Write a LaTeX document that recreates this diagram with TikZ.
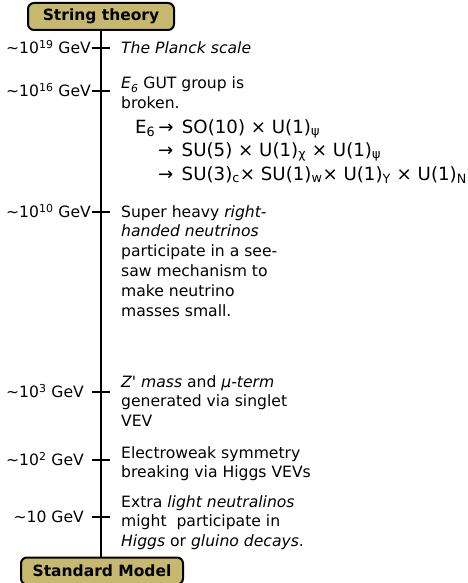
\documentclass[tikz,border=0pt]{standalone}
\usepackage{fontspec}
\setmainfont{DejaVu Sans}[Ligatures=TeXOff]
\definecolor{khaki}{RGB}{198,185,110}
\begin{document}
\begin{tikzpicture}[x=1pt,y=-1pt,
  box/.style={draw=black, line width=2pt, rounded corners=6pt, fill=khaki,
    font=\bfseries\fontsize{15.5}{18}\selectfont, inner sep=0pt, minimum height=27pt},
  lab/.style={anchor=base east, inner sep=0pt, font=\fontsize{15.6}{19.8}\selectfont},
  txt/.style={anchor=base west, inner sep=0pt, font=\fontsize{15.6}{19.8}\selectfont},
  eq/.style={anchor=base west, inner sep=0pt, font=\fontsize{18.2}{22}\selectfont},
  axis/.style={line width=2.5pt},
  tickmark/.style={line width=2.5pt}]
\useasboundingbox (0,0) rectangle (467,583);
\node[box, minimum width=146pt] (top) at (101,16.5) {String theory};
\node[box, minimum width=162pt] (bot) at (102,571) {Standard Model};
\draw[axis] (top.south) -- (top.south |- bot.north);
% ticks
\foreach \n/\y in {t1/48, t2/91, t3/212, t4/392, t5/460, t6/517}{
  \coordinate (\n) at (101,\y);
  \draw[tickmark] ([xshift=-9pt]\n) -- ([xshift=9pt]\n);
}
% left labels
\node[lab] (l1) at (91,53.5) {∼10\textsuperscript{19} GeV};
\node[lab] (l2) at (91,96.5) {∼10\textsuperscript{16} GeV};
\node[lab] (l3) at (91,217.5) {∼10\textsuperscript{10} GeV};
\node[lab] (l4) at (84,397.5) {∼10\textsuperscript{3} GeV};
\node[lab] (l5) at (84,465.5) {∼10\textsuperscript{2} GeV};
\node[lab] (l6) at (84,522.5) {∼10 GeV};
% right texts
\node[txt] (b1) at (121,54) {\textit{The Planck scale}};
\node[txt] (b2) at (121,89) {\vtop{\hbox{\textit{E\textsubscript{6}} GUT group is}\hbox{broken.}}};
\node[eq] (e1) at (135,133) {E\textsubscript{6}\,→\hspace{2.5pt} SO(10) × U(1)\textsubscript{ψ}};
\node[eq] (e2) at (158,156) {→\hspace{2.5pt} SU(5) × U(1)\textsubscript{χ} × U(1)\textsubscript{ψ}};
\node[eq] (e3) at (158,180) {→\hspace{2.5pt} SU(3)\textsubscript{c}× SU(1)\textsubscript{w}× U(1)\textsubscript{Y} × U(1)\textsubscript{N}};
\node[txt] (b3) at (121,217) {\vtop{\hbox{Super heavy \textit{right-}}\hbox{\textit{handed neutrinos}}\hbox{participate in a see-}\hbox{saw mechanism to}\hbox{make neutrino}\hbox{masses small.}}};
\node[txt] (b4) at (121,387) {\vtop{\hbox{\textit{Z' mass} and \textit{μ-term}}\hbox{generated via singlet}\hbox{VEV}}};
\node[txt] (b5) at (121,458) {\vtop{\hbox{Electroweak symmetry}\hbox{breaking via Higgs VEVs}}};
\node[txt] (b6) at (121,507) {\vtop{\hbox{Extra \textit{light neutralinos}}\hbox{might~ participate in}\hbox{\textit{Higgs} or \textit{gluino decays}.}}};
\end{tikzpicture}
\end{document}
